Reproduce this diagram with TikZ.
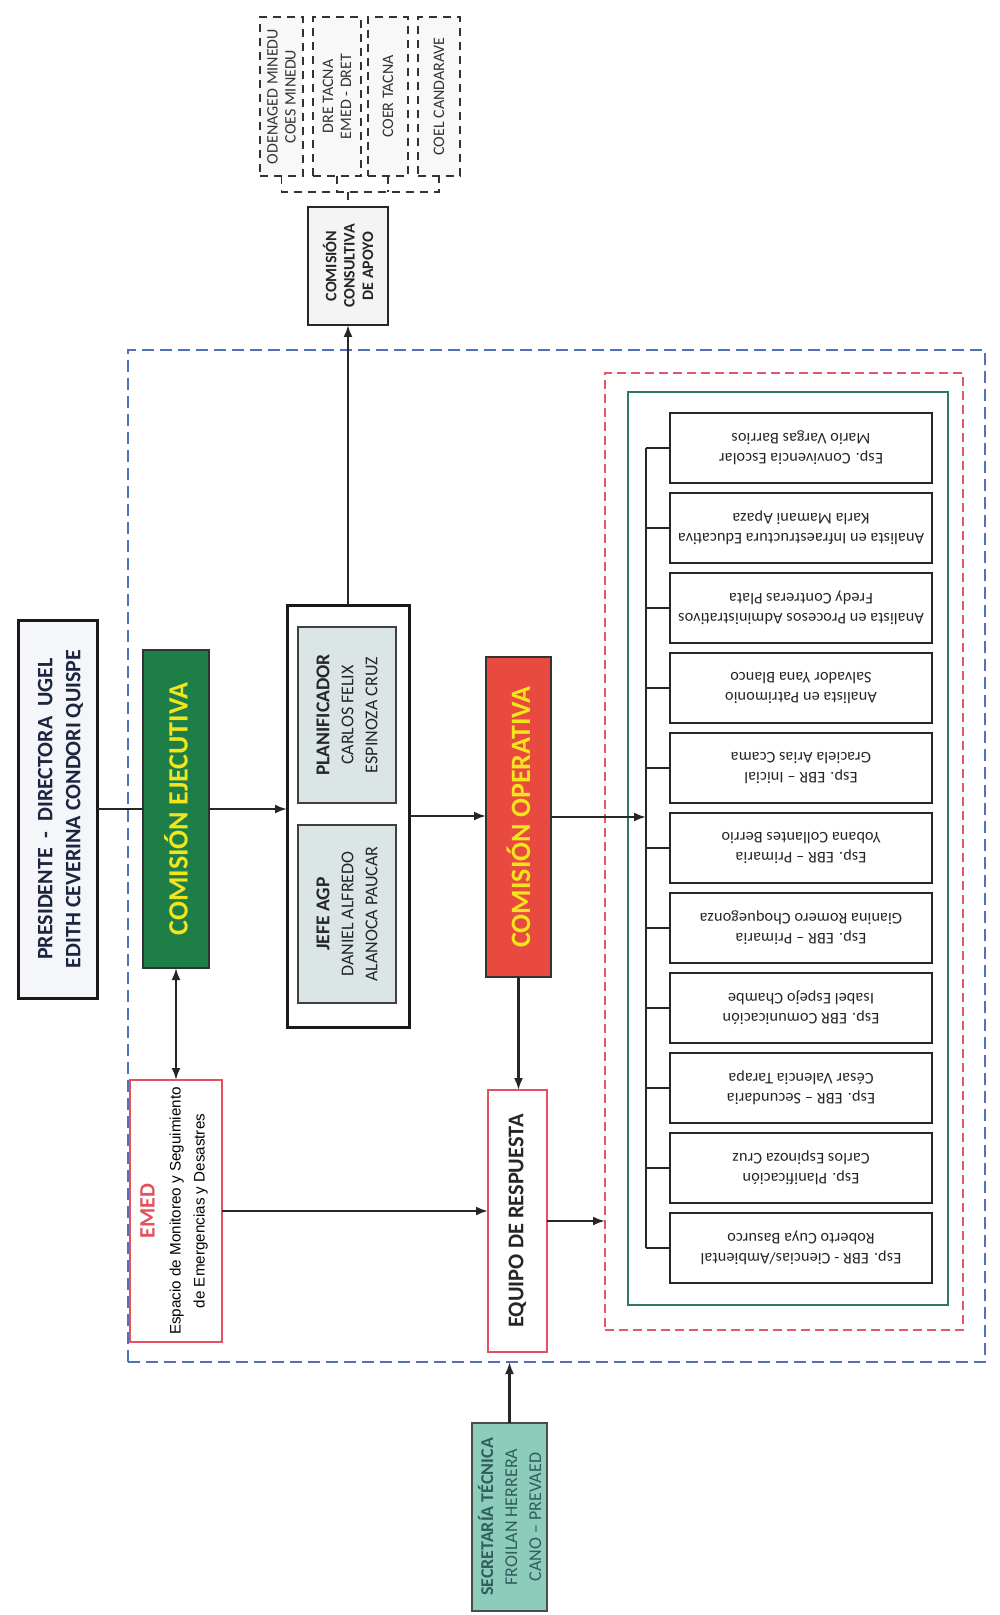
\documentclass[tikz,border=0pt]{standalone}
\usepackage{fontspec}
\setmainfont{Carlito}
\newfontfamily\arialf{Liberation Sans}
\newfontfamily\staffont[LetterSpace=1]{Carlito}
\usetikzlibrary{fit,arrows.meta}
\definecolor{blueD}{HTML}{4F72B8}
\definecolor{redD}{HTML}{E5566A}
\definecolor{greenF}{HTML}{2E7B5C}
\definecolor{ejeG}{HTML}{1E7E48}
\definecolor{opR}{HTML}{E84A3F}
\definecolor{yel}{HTML}{F3E51B}
\definecolor{presF}{HTML}{F4F6F9}
\definecolor{presTxt}{HTML}{1E2540}
\definecolor{innerF}{HTML}{DCE5E6}
\definecolor{emedR}{HTML}{E5505E}
\definecolor{secT}{HTML}{8DCBBB}
\definecolor{secTxt}{HTML}{2F5E5C}
\definecolor{extF}{HTML}{F8F8F8}
\definecolor{consF}{HTML}{F4F4F4}
\newcommand\fsz[2]{\fontsize{#1}{#2}\selectfont}
\tikzset{
  boxfit/.style={inner sep=0pt, outer sep=0pt},
  conn/.style={line width=1.1pt, draw=black!85},
  arr/.style={conn, -{Latex[length=6pt,width=4.5pt]}},
  darr/.style={conn, {Latex[length=6pt,width=4.5pt]}-{Latex[length=6pt,width=4.5pt]}},
  extbox/.style={boxfit, draw=black!80, fill=extF, line width=0.8pt, dash pattern=on 4pt off 3pt},
  extline/.style={draw=black!80, line width=0.8pt, dash pattern=on 4pt off 3pt},
  vtext/.style={rotate=90, align=center, inner sep=0pt},
  sbox/.style={boxfit, draw=black!85, fill=white, line width=0.75pt},
  stext/.style={rotate=180, align=center, inner sep=0pt, font=\staffont\fsz{8.1}{10}, text=black!85},
}
\newcommand\staffbox[4]{%
  \node[fit={(670,#2) (932,{#2+70})}, sbox] (s#1) {};
  \node[stext] (t#1) at (s#1.center) {#3\\#4};
  \draw[conn] (s#1.west -| spx) -- (s#1.west);
}
\begin{document}
\begin{tikzpicture}[x=0.5pt,y=-0.5pt]
\useasboundingbox[fill=white] (0,0) rectangle (1000,1615);

% frames
\node[fit={(128,350) (985,1362)}, boxfit, draw=blueD, line width=1.3pt, dash pattern=on 6pt off 3pt] (blue) {};
\node[fit={(605,373) (963,1330)}, boxfit, draw=redD, line width=1.2pt, dash pattern=on 4.5pt off 2.5pt] (red) {};
\node[fit={(628,392) (948,1305)}, boxfit, draw=greenF, line width=1.4pt] (grn) {};

% external dashed boxes
\node[fit={(260,17) (303,176)}, extbox] (e1) {};
\node[vtext, font=\fsz{8}{9}, text=black!80] (e1t) at (e1.center) {ODENAGED MINEDU\\COES MINEDU};
\node[fit={(313,17) (361,176)}, extbox] (e2) {};
\node[vtext, font=\fsz{8}{9}, text=black!80] (e2t) at (e2.center) {DRE TACNA\\EMED - DRET};
\node[fit={(368,17) (408,176)}, extbox] (e3) {};
\node[vtext, font=\fsz{8}{9}, text=black!80] (e3t) at (e3.center) {COER TACNA};
\node[fit={(418,17) (460,176)}, extbox] (e4) {};
\node[vtext, font=\fsz{8}{9}, text=black!80] (e4t) at (e4.center) {COEL CANDARAVE};

% consultiva
\node[fit={(308,207) (388,325)}, boxfit, draw=black!85, fill=consF, line width=0.9pt] (cons) {};
\node[vtext, font=\bfseries\fsz{8}{9.2}, text=black!85] (const) at (cons.center) {COMISIÓN\\CONSULTIVA\\DE APOYO};
\coordinate (bk) at (348,192);
\draw[extline] (e1.south) |- (e4.south |- bk) -- (e4.south);
\draw[extline] (e2.south) -- (e2.south |- bk);
\draw[extline] (e3.south) -- (e3.south |- bk);
\draw[extline] (bk) -- (cons.north);

% presidente
\node[fit={(18,620) (97,998)}, boxfit, draw=black!90, fill=presF, line width=1.5pt] (pres) {};
\node[vtext, font=\bfseries\fsz{11}{14}, text=presTxt] (prest) at ([xshift=1.5pt]pres.center) {PRESIDENTE \ - \ DIRECTORA \ UGEL\\EDITH CEVERINA CONDORI QUISPE};

% ejecutiva
\node[fit={(143,650) (209,968)}, boxfit, draw=black!80, fill=ejeG, line width=0.9pt] (eje) {};
\node[vtext, font=\bfseries\fsz{14}{16}, text=yel] (ejet) at (eje.center) {COMISIÓN EJECUTIVA};

% planificador group
\node[fit={(287,605) (409,1027)}, boxfit, draw=black!90, fill=white, line width=1.5pt] (plan) {};
\node[fit={(298,627) (396,803)}, boxfit, draw=black!75, fill=innerF, line width=0.9pt] (planin) {};
\node[vtext, text=black!85] (planint) at (planin.center) {\bfseries\fsz{9.8}{11.7}PLANIFICADOR\\\fsz{9}{11.7}CARLOS FELIX\\\fsz{9}{11.7}ESPINOZA CRUZ};
\node[fit={(298,825) (396,1003)}, boxfit, draw=black!75, fill=innerF, line width=0.9pt] (jefe) {};
\node[vtext, text=black!85] (jefet) at (jefe.center) {\bfseries\fsz{9.8}{11.7}JEFE AGP\\\fsz{9}{11.7}DANIEL ALFREDO\\\fsz{9}{11.7}ALANOCA PAUCAR};

% operativa
\node[fit={(486,657) (551,977)}, boxfit, draw=black!80, fill=opR, line width=0.9pt] (oper) {};
\node[vtext, font=\bfseries\fsz{14}{16}, text=yel] (opert) at (oper.center) {COMISIÓN OPERATIVA};

% EMED
\node[fit={(130,1080) (222,1342)}, boxfit, draw=emedR, fill=white, line width=1.3pt] (emed) {};
\node[vtext] (emedt) at ([xshift=-1pt]emed.center) {\bfseries\color{emedR}\fsz{11}{13}EMED\\[1pt]\arialf\fsz{7.6}{9}Espacio de Monitoreo y Seguimiento\\\arialf\fsz{7.6}{9}de Emergencias y Desastres};

% equipo
\node[fit={(488,1090) (547,1352)}, boxfit, draw=emedR, fill=white, line width=1.3pt] (equ) {};
\node[vtext, font=\bfseries\fsz{11.2}{13}, text=black!85] (equt) at (equ.center) {EQUIPO DE RESPUESTA};

% secretaria
\node[fit={(472,1423) (547,1611)}, boxfit, draw=black!70, fill=secT, line width=0.9pt] (sec) {};
\node[vtext, text=secTxt] (sect) at (sec.center) {\bfseries\fsz{9}{11.7}SECRETARÍA TÉCNICA\\\fsz{9}{11.7}FROILAN HERRERA\\\fsz{9}{11.7}CANO – PREVAED};

% staff column
\coordinate (spx) at (646,0);
\staffbox{1}{413}{Esp. Convivencia Escolar}{Mario Vargas Barrios}
\staffbox{2}{493}{Analista en Infraestructura Educativa}{Karla Mamani Apaza}
\staffbox{3}{573}{Analista en Procesos Administrativos}{Fredy Contreras Plata}
\staffbox{4}{653}{Analista en Patrimonio}{Salvador Yana Blanco}
\staffbox{5}{733}{Esp. EBR – Inicial}{Graciela Arias Ccama}
\staffbox{6}{813}{Esp. EBR – Primaria}{Yobana Collantes Berrio}
\staffbox{7}{893}{Esp. EBR – Primaria}{Gianina Romero Choquegonza}
\staffbox{8}{973}{Esp. EBR Comunicación}{Isabel Espejo Chambe}
\staffbox{9}{1053}{Esp. EBR – Secundaria}{César Valencia Tarapa}
\staffbox{10}{1133}{Esp. Planificación}{Carlos Espinoza Cruz}
\staffbox{11}{1213}{Esp. EBR - Ciencias/Ambiental}{Roberto Cuya Basurco}
\draw[conn] (s1.west -| spx) -- (s11.west -| spx);

% connectors
\draw[arr] (plan.north) -- (cons.south);
\draw[conn] (pres.east) -- (eje.west);
\draw[arr] (eje.east) -- (eje.east -| plan.west);
\draw[arr] (plan.east) -- (plan.east -| oper.west);
\draw[arr] (oper.east) -- (oper.east -| spx);
\draw[arr] (oper.south) -- (oper.south |- equ.north);
\draw[darr] (eje.south) -- (eje.south |- emed.north);
\draw[arr] (emed.east) -- (emed.east -| equ.west);
\draw[arr] (equ.east) -- (equ.east -| red.west);
\draw[arr] (sec.north) -- (sec.north |- blue.south);
\end{tikzpicture}
\end{document}
